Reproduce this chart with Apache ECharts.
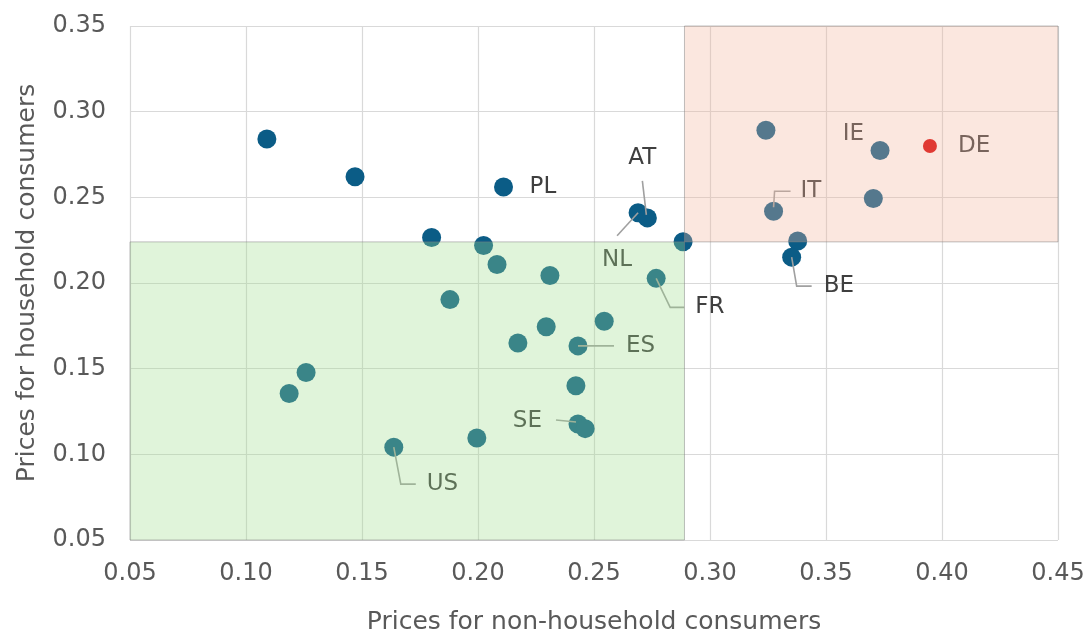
<!DOCTYPE html>
<html><head><meta charset="utf-8">
<script src="https://cdn.jsdelivr.net/npm/echarts@6/dist/echarts.min.js"></script>
<style>html,body{margin:0;padding:0;background:#fff}#c{width:1089px;height:637px}</style>
</head><body><div id="c"></div>
<script>
// ---- data ----
const countries = ["", "", "PL", "", "NL", "AT", "", "", "", "", "FR", "", "", "", "", "ES", "", "", "US", "", "", "SE", "", "", "IE", "IT", "", "", "BE"];
const nonHousehold = [0.109, 0.147, 0.211, 0.180, 0.269, 0.273, 0.2884, 0.2024, 0.2082, 0.231, 0.2768, 0.1879, 0.2544, 0.2294, 0.2172, 0.2431, 0.1259, 0.1186, 0.1637, 0.1995, 0.2422, 0.2431, 0.2462, 0.3241, 0.3733, 0.3274, 0.3704, 0.3378, 0.3352];
const household = [0.284, 0.262, 0.256, 0.2266, 0.241, 0.238, 0.2241, 0.2219, 0.2108, 0.2044, 0.2027, 0.1903, 0.1777, 0.1745, 0.165, 0.1633, 0.1478, 0.1355, 0.1042, 0.1095, 0.140, 0.1177, 0.115, 0.2891, 0.2773, 0.2419, 0.2493, 0.2245, 0.2151];
const highlightName = "DE";
const highlightNonHousehold = 0.3948;
const highlightHousehold = 0.280;
const xThreshold = 0.289;
const yThreshold = 0.224;
const xMin = 0.05, xMax = 0.45, yMin = 0.05, yMax = 0.35, step = 0.05;

// ---- label layout (pixel offsets from point centre) ----
const labelLayout = {
  PL: {text: [26, 0, 'left']},
  AT: {text: [-5, -60, 'center'], line: [[-5, -37], [-1, -3]]},
  NL: {text: [-21, 47, 'center'], line: [[-21, 23], [0, 0]]},
  FR: {text: [39, 29, 'left'], line: [[0, 0], [14, 29], [28, 29]]},
  ES: {text: [48, 0, 'left'], line: [[0, 0], [36, 0]]},
  SE: {text: [-36, -3, 'right'], line: [[-22, -4], [-2, -2]]},
  US: {text: [33, 37, 'left'], line: [[0, 0], [7, 37], [22, 37]]},
  IE: {text: [-16, -17, 'right']},
  DE: {text: [28, 0, 'left']},
  IT: {text: [27, -20, 'left'], line: [[0, -4], [1, -20], [17, -20]]},
  BE: {text: [32, 29, 'left'], line: [[0, 0], [5, 29], [20, 29]]}
};

const FONT = '"DejaVu Sans", sans-serif';
const points = nonHousehold.map((x, i) => [x, household[i]]);
const labelled = [];
countries.forEach((n, i) => { if (n) labelled.push({name: n, x: nonHousehold[i], y: household[i]}); });
labelled.push({name: highlightName, x: highlightNonHousehold, y: highlightHousehold});

const chart = echarts.init(document.getElementById('c'), null, {renderer: 'canvas'});
chart.setOption({
  animation: false,
  backgroundColor: '#ffffff',
  grid: {left: 130, right: 31, top: 26, bottom: 97, outerBoundsMode: 'none', containLabel: false},
  xAxis: {
    type: 'value', min: xMin, max: xMax, interval: step,
    name: 'Prices for non-household consumers', nameLocation: 'middle', nameGap: 70,
    nameTextStyle: {fontSize: 25, color: '#595959', fontFamily: FONT},
    axisLine: {show: false}, axisTick: {show: false},
    axisLabel: {fontSize: 24, color: '#595959', fontFamily: FONT, margin: 22, formatter: v => v.toFixed(2)},
    splitLine: {show: true, lineStyle: {color: '#D9D9D9', width: 1.2}}
  },
  yAxis: {
    type: 'value', min: yMin, max: yMax, interval: step,
    name: 'Prices for household consumers', nameLocation: 'middle', nameGap: 90,
    nameTextStyle: {fontSize: 25, color: '#595959', fontFamily: FONT},
    axisLine: {show: false}, axisTick: {show: false},
    axisLabel: {fontSize: 24, color: '#595959', fontFamily: FONT, margin: 24, formatter: v => v.toFixed(2)},
    splitLine: {show: true, lineStyle: {color: '#D9D9D9', width: 1.2}}
  },
  series: [
    {
      type: 'scatter', z: 2, data: points, symbolSize: 19,
      itemStyle: {color: '#0B5C86', opacity: 1}
    },
    {
      type: 'custom', z: 3, clip: false,
      data: labelled.map(d => [d.x, d.y]),
      encode: {x: 0, y: 1},
      renderItem: (params, api) => {
        const item = labelled[params.dataIndex];
        const p = api.coord([item.x, item.y]);
        const L = labelLayout[item.name];
        const children = [];
        if (L.line) {
          children.push({type: 'polyline', shape: {points: L.line.map(d => [p[0] + d[0], p[1] + d[1]])},
            style: {stroke: '#A0A0A0', lineWidth: 1.6, fill: null}});
        }
        children.push({type: 'text', x: p[0] + L.text[0], y: p[1] + L.text[1],
          style: {text: item.name, fill: '#3F3F3F', font: '23px ' + FONT, align: L.text[2], verticalAlign: 'middle'}});
        return {type: 'group', children};
      }
    },
    {
      type: 'scatter', z: 5, data: [],
      markArea: {
        silent: true, z: 10,
        itemStyle: {borderWidth: 1, borderColor: 'rgba(130,130,130,0.5)'},
        label: {show: false},
        data: [
          [{coord: [xMin, yMin], itemStyle: {color: 'rgba(160,220,140,0.32)'}}, {coord: [xThreshold, yThreshold]}],
          [{coord: [xThreshold, yThreshold], itemStyle: {color: 'rgba(243,180,155,0.32)'}}, {coord: [xMax, yMax]}]
        ]
      }
    },
    {
      type: 'scatter', z: 20, data: [[highlightNonHousehold, highlightHousehold]], symbolSize: 14,
      itemStyle: {color: '#E03A33', opacity: 1}
    }
  ]
});
</script></body></html>
